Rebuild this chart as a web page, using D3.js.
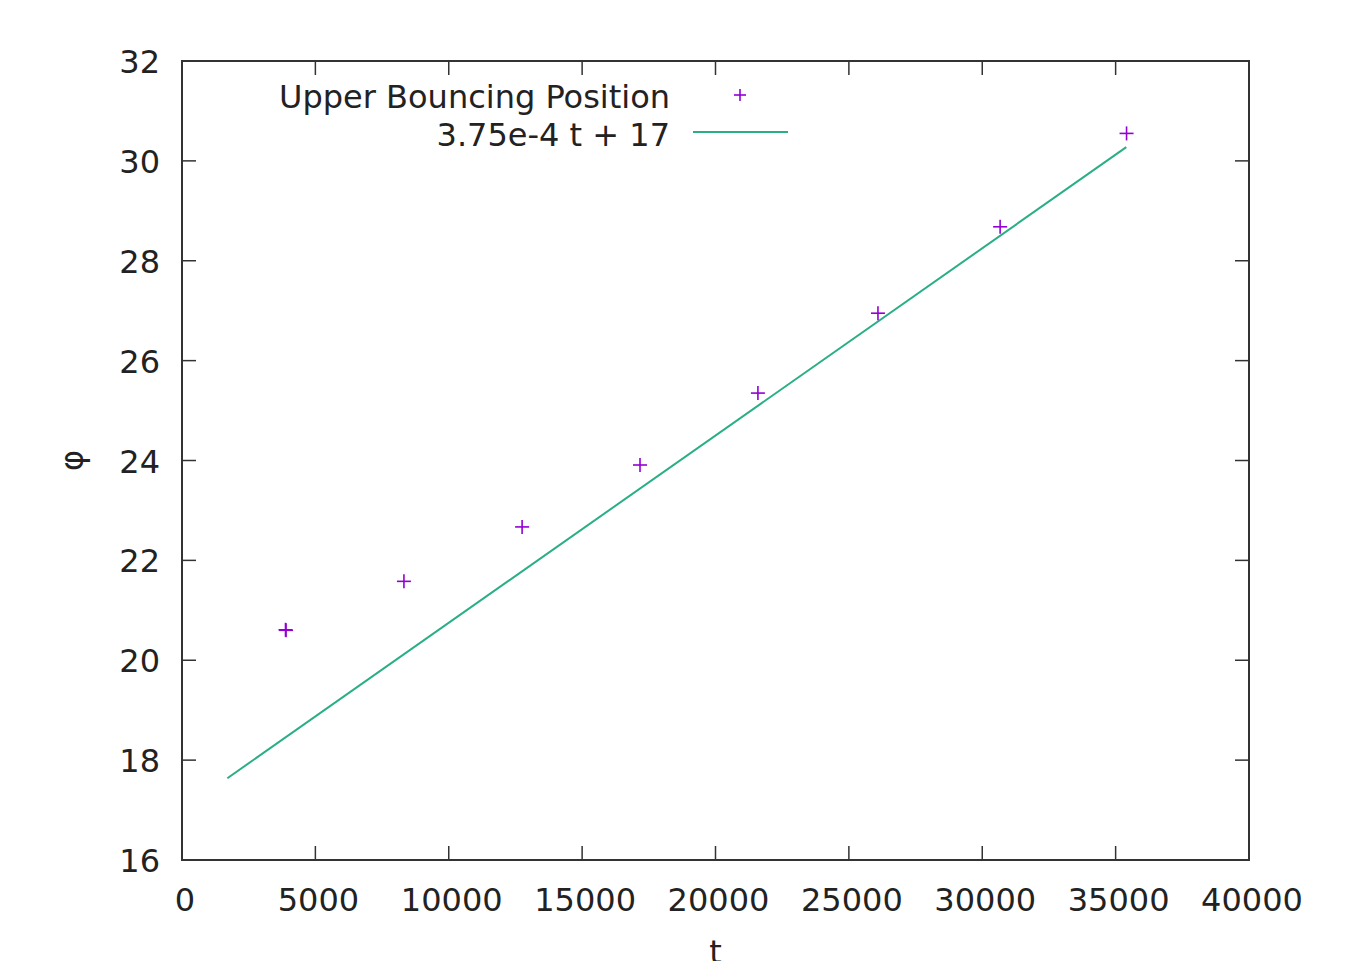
<!DOCTYPE html>
<html>
<head>
<meta charset="utf-8">
<script src="https://cdn.jsdelivr.net/npm/d3@7"></script>
<style>
  body { margin: 0; background: #fff; }
  text { font-family: "DejaVu Sans", sans-serif; fill: #222; }
</style>
</head>
<body>
<script>
/* data */
var tValues = [3880, 3900, 8320, 12750, 17170, 21590, 26090, 30670, 35410];
var phiValues = [20.61, 20.60, 21.58, 22.67, 23.91, 25.35, 26.95, 28.68, 30.55];
var fitSlope = 3.75e-4;
var fitIntercept = 17;
var fitRange = [1700, 35400];
var xTicks = [0, 5000, 10000, 15000, 20000, 25000, 30000, 35000, 40000];
var yTicks = [16, 18, 20, 22, 24, 26, 28, 30, 32];
var legendLabels = ['Upper Bouncing Position', '3.75e-4 t + 17'];

var W = 1354, H = 961;
var pLeft = 182, pRight = 1249, pTop = 61, pBottom = 860;
var tickLen = 14;
var fontSize = 32;

var svg = d3.select('body').append('svg')
  .attr('width', W)
  .attr('height', H);

var x = d3.scaleLinear().domain([0, 40000]).range([pLeft, pRight]);
var y = d3.scaleLinear().domain([16, 32]).range([pBottom, pTop]);

// ticks, gnuplot style (inward, mirrored)
var axes = svg.append('g').attr('stroke', '#333').attr('stroke-width', 1.5);
xTicks.forEach(function(t) {
  if (t === 0 || t === 40000) return;
  axes.append('line').attr('x1', x(t)).attr('x2', x(t)).attr('y1', pBottom).attr('y2', pBottom - tickLen);
  axes.append('line').attr('x1', x(t)).attr('x2', x(t)).attr('y1', pTop).attr('y2', pTop + tickLen);
});
yTicks.forEach(function(v) {
  if (v === 16 || v === 32) return;
  axes.append('line').attr('x1', pLeft).attr('x2', pLeft + tickLen).attr('y1', y(v)).attr('y2', y(v));
  axes.append('line').attr('x1', pRight).attr('x2', pRight - tickLen).attr('y1', y(v)).attr('y2', y(v));
});

// tick labels
svg.append('g').selectAll('text')
  .data(xTicks)
  .enter().append('text')
  .attr('x', function(d) { return x(d) + 3; })
  .attr('y', 911)
  .attr('text-anchor', 'middle')
  .style('font-size', fontSize + 'px')
  .text(function(d) { return d; });

svg.append('g').selectAll('text')
  .data(yTicks)
  .enter().append('text')
  .attr('x', 160)
  .attr('y', function(d) { return y(d) + 12; })
  .attr('text-anchor', 'end')
  .style('font-size', fontSize + 'px')
  .text(function(d) { return d; });

// axis titles (the t sits partly below the bottom edge, as in the reference)
svg.append('text')
  .attr('x', x(20000))
  .attr('y', 963)
  .attr('text-anchor', 'middle')
  .style('font-size', fontSize + 'px')
  .text('t');

svg.append('text')
  .attr('transform', 'translate(83,' + y(24) + ') rotate(-90)')
  .attr('text-anchor', 'middle')
  .style('font-size', fontSize + 'px')
  .text('φ');

// fit line
var fitPts = fitRange.map(function(t) { return [t, fitSlope * t + fitIntercept]; });
svg.append('path')
  .datum(fitPts)
  .attr('fill', 'none')
  .attr('stroke', '#2aae86')
  .attr('stroke-width', 2)
  .attr('d', d3.line()
    .x(function(d) { return x(d[0]); })
    .y(function(d) { return y(d[1]); }));

// data points (+)
var pts = svg.append('g').attr('stroke', '#9400d3').attr('stroke-width', 1.6);
tValues.forEach(function(t, i) {
  var cx = x(t), cy = y(phiValues[i]);
  pts.append('line').attr('x1', cx - 7).attr('x2', cx + 7).attr('y1', cy).attr('y2', cy);
  pts.append('line').attr('x1', cx).attr('x2', cx).attr('y1', cy - 7).attr('y2', cy + 7);
});

// frame
svg.append('rect')
  .attr('x', pLeft).attr('y', pTop)
  .attr('width', pRight - pLeft).attr('height', pBottom - pTop)
  .attr('fill', 'none')
  .attr('stroke', '#333')
  .attr('stroke-width', 2);

// legend
var legend = svg.append('g');
legend.selectAll('text')
  .data(legendLabels)
  .enter().append('text')
  .attr('x', 670)
  .attr('y', function(d, i) { return 108 + i * 38; })
  .attr('text-anchor', 'end')
  .style('font-size', fontSize + 'px')
  .text(function(d) { return d; });

legend.append('line').attr('x1', 734).attr('x2', 746).attr('y1', 95).attr('y2', 95)
  .attr('stroke', '#9400d3').attr('stroke-width', 1.6);
legend.append('line').attr('x1', 740).attr('x2', 740).attr('y1', 89).attr('y2', 101)
  .attr('stroke', '#9400d3').attr('stroke-width', 1.6);
legend.append('line').attr('x1', 693).attr('x2', 788).attr('y1', 132).attr('y2', 132)
  .attr('stroke', '#2aae86').attr('stroke-width', 2);
</script>
</body>
</html>
